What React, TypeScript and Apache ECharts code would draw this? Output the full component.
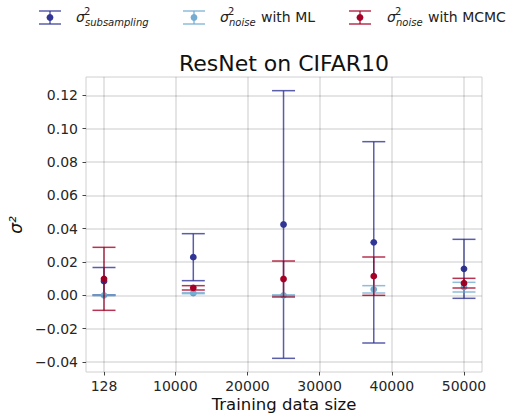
import React, { useEffect, useRef } from 'react';
import * as echarts from 'echarts';

const trainSizes = [128, 12500, 25000, 37500, 50000];
const subMean = [0.0085, 0.0229, 0.0425, 0.0318, 0.0159];
const subErr = [0.0082, 0.0141, 0.0803, 0.0604, 0.0177];
const mlMean = [0.0, 0.0013, 0.0, 0.0036, 0.0049];
const mlErr = [0.0002, 0.0003, 0.0003, 0.0022, 0.0029];
const mcmcMean = [0.0099, 0.0045, 0.0098, 0.0115, 0.0073];
const mcmcErr = [0.0189, 0.0013, 0.0108, 0.0115, 0.0029];
const xTicks = [128, 10000, 20000, 30000, 40000, 50000];
const yTicks = [-0.04, -0.02, 0, 0.02, 0.04, 0.06, 0.08, 0.1, 0.12];

const FONT = 'DejaVu Sans';
const C_SUB = '#313695';
const C_ML = '#74add1';
const C_MCMC = '#a50026';
const GRID_COLOR = 'rgba(0,0,0,0.1)';

function errSeries(name: string, mean: number[], err: number[], color: string, z: number) {
  return {
    type: 'custom',
    name,
    z,
    data: trainSizes.map((x, i) => [x, mean[i], err[i]]),
    renderItem: (_p: any, api: any) => {
      const x = api.value(0);
      const m = api.value(1);
      const e = api.value(2);
      const top = api.coord([x, m + e]);
      const bot = api.coord([x, m - e]);
      const c = api.coord([x, m]);
      const hw = 11.5;
      const ls = { stroke: color, lineWidth: 1.5, fill: null, opacity: 0.8 };
      return {
        type: 'group',
        children: [
          { type: 'line', shape: { x1: top[0], y1: top[1], x2: bot[0], y2: bot[1] }, style: ls },
          { type: 'line', shape: { x1: top[0] - hw, y1: top[1], x2: top[0] + hw, y2: top[1] }, style: ls },
          { type: 'line', shape: { x1: bot[0] - hw, y1: bot[1], x2: bot[0] + hw, y2: bot[1] }, style: ls },
          { type: 'circle', shape: { cx: c[0], cy: c[1], r: 3.4 }, style: { fill: color } },
        ],
      };
    },
  };
}

function legendItem(cx: number, color: string, tx: number, sub: string, rest: string, restX: number) {
  const ls = { stroke: color, lineWidth: 1.5, opacity: 0.8 };
  const children: any[] = [
    { type: 'line', shape: { x1: cx, y1: 11, x2: cx, y2: 24 }, style: ls },
    { type: 'line', shape: { x1: cx - 11, y1: 11, x2: cx + 11, y2: 11 }, style: ls },
    { type: 'line', shape: { x1: cx - 11, y1: 24, x2: cx + 11, y2: 24 }, style: ls },
    { type: 'circle', shape: { cx, cy: 17.5, r: 3.4 }, style: { fill: color } },
    { type: 'text', x: tx, y: 17, style: { text: 'σ', font: `italic 14px "${FONT}"`, fill: '#222', verticalAlign: 'middle' } },
    { type: 'text', x: tx + 8, y: 11.5, style: { text: '2', font: `10px "${FONT}"`, fill: '#222', verticalAlign: 'middle' } },
    { type: 'text', x: tx + 9, y: 22.5, style: { text: sub, font: `italic 10px "${FONT}"`, fill: '#222', verticalAlign: 'middle' } },
  ];
  if (rest) {
    children.push({ type: 'text', x: restX, y: 17, style: { text: rest, font: `14px "${FONT}"`, fill: '#222', verticalAlign: 'middle' } });
  }
  return { type: 'group', children };
}

export default function App() {
  const ref = useRef<HTMLDivElement>(null);
  useEffect(() => {
    const chart = echarts.init(ref.current!, undefined, { renderer: 'svg' });
    const gridSeries = {
      type: 'line',
      data: [],
      z: 1,
      silent: true,
      markLine: {
        silent: true,
        symbol: 'none',
        label: { show: false },
        lineStyle: { color: GRID_COLOR, width: 2, type: 'solid' },
        data: [...xTicks.map((v) => ({ xAxis: v })), ...yTicks.map((v) => ({ yAxis: v }))],
      },
    };
    chart.setOption({
      animation: false,
      backgroundColor: '#fff',
      grid: { left: 86, right: 25, top: 77, height: 295, show: true, borderColor: '#d0d0d0', borderWidth: 1, backgroundColor: 'transparent' },
      xAxis: {
        type: 'value',
        min: -2366,
        max: 52494,
        axisLine: { show: false, onZero: false },
        axisTick: { show: true, customValues: xTicks, length: 3.5, lineStyle: { color: '#444' } },
        axisLabel: { customValues: xTicks, margin: 7, fontFamily: FONT, fontSize: 14, color: '#262626', formatter: (v: number) => String(v) },
        splitLine: { show: false },
      },
      yAxis: {
        type: 'value',
        min: -0.046,
        max: 0.131,
        axisLine: { show: false, onZero: false },
        axisTick: { show: true, customValues: yTicks, length: 3.5, lineStyle: { color: '#444' } },
        axisLabel: {
          customValues: yTicks,
          margin: 8,
          fontFamily: FONT,
          fontSize: 14,
          color: '#262626',
          formatter: (v: number) => (v < 0 ? '\u2212' : '') + Math.abs(v).toFixed(2),
        },
        splitLine: { show: false },
      },
      series: [
        gridSeries,
        errSeries('subsampling', subMean, subErr, C_SUB, 2),
        errSeries('ML', mlMean, mlErr, C_ML, 3),
        errSeries('MCMC', mcmcMean, mcmcErr, C_MCMC, 4),
      ],
      graphic: [
        { type: 'text', x: 284, y: 63, style: { text: 'ResNet on CIFAR10', font: `22px "${FONT}"`, fill: '#111', align: 'center', verticalAlign: 'middle' } },
        { type: 'text', x: 284, y: 404, style: { text: 'Training data size', font: `16.5px "${FONT}"`, fill: '#111', align: 'center', verticalAlign: 'middle' } },
        { type: 'text', x: 16, y: 225, rotation: Math.PI / 2, style: { text: 'σ²', font: `italic 17px "${FONT}"`, fill: '#111', align: 'center', verticalAlign: 'middle' } },
        legendItem(50, C_SUB, 76, 'subsampling', '', 0),
        legendItem(194, C_ML, 220, 'noise', 'with ML', 261),
        legendItem(360, C_MCMC, 387, 'noise', 'with MCMC', 428),
      ],
    });
    return () => chart.dispose();
  }, []);
  return <div ref={ref} style={{ width: 507, height: 413, position: 'absolute', left: 0, top: 0 }} />;
}
